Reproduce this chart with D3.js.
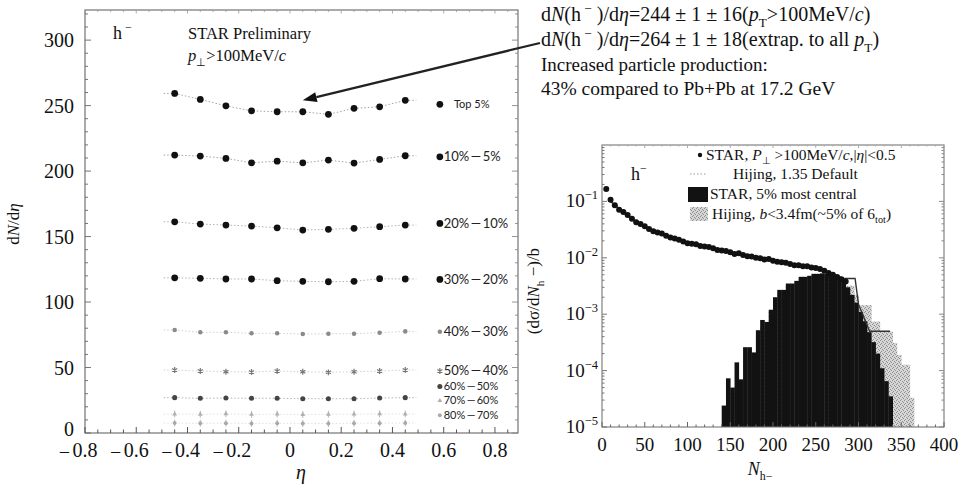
<!DOCTYPE html>
<html>
<head>
<meta charset="utf-8">
<script src="https://cdn.jsdelivr.net/npm/d3@7"></script>
<style>
  body { margin: 0; background: #fff; }
  svg { display: block; }
</style>
</head>
<body>
<svg id="chart" width="963" height="484"></svg>
<script>
// ---------------- left panel: dN/deta vs eta by centrality ----------------
const etaBins = [-0.45, -0.35, -0.25, -0.15, -0.05, 0.05, 0.15, 0.25, 0.35, 0.45];
const centralityLabels = ["Top 5%", "10%\u2009—\u20095%", "20%\u2009—\u200910%", "30%\u2009—\u200920%", "40%\u2009—\u200930%",
                          "50%\u2009—\u200940%", "60%\u2009—\u200950%", "70%\u2009—\u200960%", "80%\u2009—\u200970%"];
const dndetaTop5   = [259.3, 254.7, 249.8, 246.0, 245.3, 245.3, 243.3, 247.9, 249.1, 254.0];
const dndeta5to10  = [212.2, 211.5, 209.7, 206.3, 207.6, 206.3, 208.4, 206.1, 208.9, 211.7];
const dndeta10to20 = [161.3, 159.5, 158.8, 158.0, 156.7, 155.0, 155.5, 156.3, 157.5, 158.8];
const dndeta20to30 = [118.5, 118.1, 117.6, 117.6, 116.3, 115.8, 115.5, 115.8, 117.8, 117.6];
const dndeta30to40 = [78.6, 76.9, 76.9, 76.1, 76.1, 75.6, 75.8, 75.8, 76.6, 77.6];
const dndeta40to50 = [48.1, 47.3, 46.8, 46.6, 47.3, 46.8, 46.3, 46.8, 47.3, 48.1];
const dndeta50to60 = [27.0, 26.5, 26.7, 26.5, 26.5, 26.2, 26.2, 26.2, 26.7, 27.0];
const dndeta60to70 = [14.5, 14.3, 14.6, 14.2, 14.4, 14.1, 14.3, 14.4, 14.6, 14.5];
const dndeta70to80 = [7.6, 7.4, 7.5, 7.3, 7.4, 7.3, 7.2, 7.4, 7.5, 7.6];
// dN/deta level at which each class label sits on the right of the panel
const labelLevels = [251, 210.9, 160, 117.3, 77.3, 47.3, 35.5, 24.7, 13.5];
const etaTicks = [-0.8, -0.6, -0.4, -0.2, 0, 0.2, 0.4, 0.6, 0.8];
const dndetaTicks = [0, 50, 100, 150, 200, 250, 300];
const centralValue = 254; // value the annotation arrow points to

// ---------------- right panel: multiplicity distributions ----------------
const starMinBiasN = [5, 10, 15, 20, 25, 30, 35, 40, 45, 50, 55, 60, 65, 70, 75, 80, 85, 90, 95, 100,
  105, 110, 115, 120, 125, 130, 135, 140, 145, 150, 155, 160, 165, 170, 175, 180, 185, 190, 195, 200,
  205, 210, 215, 220, 225, 230, 235, 240, 245, 250, 255, 260, 265, 270, 275, 280, 285];
const starMinBias = [0.166, 0.107, 0.0851, 0.0708, 0.0646, 0.0575, 0.0490, 0.0427, 0.0398, 0.0363,
  0.0324, 0.0295, 0.0282, 0.0269, 0.0245, 0.0229, 0.0219, 0.0209, 0.0195, 0.0182,
  0.0178, 0.0174, 0.0162, 0.0158, 0.0155, 0.0148, 0.0138, 0.0135, 0.0132, 0.0126,
  0.0117, 0.0120, 0.0112, 0.0107, 0.0105, 0.0100, 0.00977, 0.00933, 0.00955, 0.00891,
  0.00851, 0.00832, 0.00813, 0.00776, 0.00741, 0.00741, 0.00708, 0.00708, 0.00676, 0.00661,
  0.00631, 0.00589, 0.00537, 0.00501, 0.00457, 0.00417, 0.00380];

const binWidth = 5;
const starCentralBins = [140, 145, 150, 155, 160, 165, 170, 175, 180, 185, 190, 195, 200, 205, 210,
  215, 220, 225, 230, 235, 240, 245, 250, 255, 260, 265, 270, 275, 280, 285, 290, 295, 300, 305,
  310, 315, 320, 325, 330, 335];
const starCentral = [2.4e-5, 7.3e-5, 5.0e-5, 1.4e-4, 7.0e-5, 2.6e-4, 2.6e-4, 2.1e-4, 5.2e-4, 7.9e-4,
  7.3e-4, 1.2e-3, 2.0e-3, 2.7e-3, 2.7e-3, 3.5e-3, 3.5e-3, 3.9e-3, 4.6e-3, 4.6e-3,
  4.8e-3, 5.2e-3, 5.2e-3, 5.3e-3, 5.2e-3, 5.1e-3, 5.0e-3, 4.6e-3, 4.0e-3, 3.0e-3,
  2.2e-3, 1.6e-3, 1.1e-3, 7.5e-4, 4.8e-4, 3.2e-4, 2.0e-4, 1.1e-4, 6.5e-5, 3.5e-5];

const hijingCentralBins = [145, 150, 155, 160, 165, 170, 175, 180, 185, 190, 195, 200, 205, 210, 215,
  220, 225, 230, 235, 240, 245, 250, 255, 260, 265, 270, 275, 280, 285, 290, 295, 300, 305, 310,
  315, 320, 325, 330, 335, 340, 345, 350, 355, 360];
const hijingCentral = [2.0e-5, 4.0e-5, 5.0e-5, 6.0e-5, 1.5e-4, 2.0e-4, 2.0e-4, 4.0e-4, 6.0e-4, 7.0e-4,
  1.1e-3, 1.8e-3, 2.4e-3, 2.6e-3, 3.3e-3, 3.4e-3, 3.8e-3, 4.3e-3, 4.5e-3, 4.7e-3,
  4.9e-3, 5.0e-3, 5.0e-3, 5.0e-3, 4.9e-3, 4.8e-3, 4.5e-3, 4.2e-3, 3.2e-3, 3.2e-3,
  2.2e-3, 1.45e-3, 1.45e-3, 1.45e-3, 7.4e-4, 7.4e-4, 4.9e-4, 4.9e-4, 4.9e-4, 3.1e-4,
  1.9e-4, 1.27e-4, 1.27e-4, 3.3e-5];

const hijingDefaultN = [10, 30, 60, 100, 150, 200, 250, 270, 283, 296, 300, 313, 337];
const hijingDefault = [0.1, 0.055, 0.029, 0.018, 0.0124, 0.0088, 0.0065, 0.0051, 0.0043, 0.0043, 0.0015, 5.0e-4, 5.0e-4];

const multTicks = [0, 50, 100, 150, 200, 250, 300, 350, 400];
const decadeTicks = [1e-5, 1e-4, 1e-3, 1e-2, 1e-1];
const decadeExponents = ["−5", "−4", "−3", "−2", "−1"];

// ---------------- drawing ----------------
const SERIF = "'Liberation Serif', 'Times New Roman', serif";
const SANS = "Lato, 'Noto Sans', sans-serif";
const INK = "#111";
const svg = d3.select("#chart");

// text made of plain / italic / sub / superscript runs
function rich(parent, x, y, size, parts, anchor) {
  const t = parent.append("text")
    .attr("x", x).attr("y", y)
    .attr("font-family", SERIF).attr("font-size", size)
    .attr("fill", INK).attr("text-anchor", anchor || "start");
  let cur = 0;
  parts.forEach(p => {
    const o = typeof p === "string" ? { t: p } : p;
    let shift = 0, fs = size;
    if (o.sub) { shift = size * 0.28; fs = size * 0.66; }
    if (o.sup) { shift = -size * 0.42; fs = size * 0.66; }
    const ts = t.append("tspan").text(o.t).attr("dy", shift - cur).attr("font-size", fs);
    if (o.i) ts.attr("font-style", "italic");
    cur = shift;
  });
  return t;
}

// ===== left panel =====
const xL = d3.scaleLinear().domain([-0.8, 0.89]).range([85, 518]);
const yL = d3.scaleLinear().domain([0, 323]).range([433, 10]);
const left = svg.append("g");

left.append("rect")
  .attr("x", xL.range()[0]).attr("y", yL.range()[1])
  .attr("width", xL.range()[1] - xL.range()[0])
  .attr("height", yL.range()[0] - yL.range()[1])
  .attr("fill", "none").attr("stroke", "#666").attr("stroke-width", 1.1);

// ticks on all four sides, pointing inward
const etaMinor = d3.range(-0.8, 0.88, 0.05);
etaMinor.forEach(v => {
  const major = Math.abs(Math.round(v * 10) / 10 - v) < 1e-6 && Math.round(v * 10) % 2 === 0;
  const len = major ? 6 : 3.5;
  left.append("line").attr("x1", xL(v)).attr("x2", xL(v))
    .attr("y1", yL(0)).attr("y2", yL(0) - len).attr("stroke", "#555").attr("stroke-width", 1);
  left.append("line").attr("x1", xL(v)).attr("x2", xL(v))
    .attr("y1", yL.range()[1]).attr("y2", yL.range()[1] + len * 0.6).attr("stroke", "#999").attr("stroke-width", 0.8);
});
d3.range(0, 321, 10).forEach(v => {
  const len = v % 50 === 0 ? 6 : 3;
  left.append("line").attr("x1", xL.range()[0]).attr("x2", xL.range()[0] + len)
    .attr("y1", yL(v)).attr("y2", yL(v)).attr("stroke", "#666").attr("stroke-width", 0.9);
  left.append("line").attr("x1", xL.range()[1]).attr("x2", xL.range()[1] - len)
    .attr("y1", yL(v)).attr("y2", yL(v)).attr("stroke", "#888").attr("stroke-width", 0.9);
});

// tick labels
dndetaTicks.forEach(v => {
  left.append("text").attr("x", 74).attr("y", yL(v) - (v === 0 ? 4 : 0)).attr("dy", "0.35em")
    .attr("text-anchor", "end").attr("font-family", SERIF).attr("font-size", 20)
    .attr("fill", INK).text(v);
});
etaTicks.forEach(v => {
  const s = Math.abs(v) < 1e-9 ? "0" : d3.format(".1f")(Math.abs(v));
  left.append("text").attr("x", xL(v)).attr("y", 457).attr("text-anchor", "middle")
    .attr("font-family", SERIF).attr("font-size", 20).attr("fill", INK).text(s);
  if (v < 0) {
    left.append("text").attr("x", xL(v) - 15).attr("y", 459).attr("text-anchor", "end")
      .attr("font-family", SERIF).attr("font-size", 20).attr("fill", INK).text("−");
  }
});

// axis titles
rich(left, 301, 479, 20, [{ t: "η", i: true }], "middle");
rich(left.append("g").attr("transform", "translate(19,224) rotate(-90)"), 0, 0, 17,
  ["d", { t: "N", i: true }, "/d", { t: "η", i: true }], "middle");

// panel captions
rich(left, 113, 39, 18, ["h", { t: " −", sup: true }]);
rich(left, 188, 39, 16.5, ["STAR Preliminary"]);
rich(left, 188, 61, 16.5, [{ t: "p", i: true }, { t: "⊥", sub: true }, ">100MeV/", { t: "c", i: true }]);

const leftSeries = [dndetaTop5, dndeta5to10, dndeta10to20, dndeta20to30, dndeta30to40,
                    dndeta40to50, dndeta50to60, dndeta60to70, dndeta70to80];
const markStyles = [
  { shape: d3.symbolCircle, size: 36, fill: "#111" },
  { shape: d3.symbolCircle, size: 36, fill: "#111" },
  { shape: d3.symbolCircle, size: 36, fill: "#111" },
  { shape: d3.symbolCircle, size: 36, fill: "#111" },
  { shape: d3.symbolCircle, size: 16, fill: "#8a8a8a" },
  { shape: d3.symbolAsterisk, size: 24, stroke: "#777" },
  { shape: d3.symbolCircle, size: 20, fill: "#444" },
  { shape: d3.symbolTriangle, size: 10, fill: "#b0b0b0" },
  { shape: d3.symbolCircle, size: 12, fill: "#a8a8a8" }
];
const lineColors = ["#999", "#999", "#aaa", "#aaa", "#ccc", "#ccc", "#aaa", "#ddd", "#ddd"];

function mark(parent, cx, cy, st) {
  const p = parent.append("path")
    .attr("d", d3.symbol().type(st.shape).size(st.size)())
    .attr("transform", `translate(${cx},${cy})`);
  if (st.stroke) p.attr("fill", "none").attr("stroke", st.stroke).attr("stroke-width", 1.2);
  else p.attr("fill", st.fill);
}

const lineGen = d3.line().x((d, i) => xL(etaBins[i])).y(d => yL(d));
leftSeries.forEach((vals, k) => {
  const st = markStyles[k];
  // dotted guide through the class
  left.append("path").attr("d", lineGen(vals)).attr("fill", "none")
    .attr("stroke", lineColors[k]).attr("stroke-width", 0.9).attr("stroke-dasharray", "1.5,2");
  left.append("line")
    .attr("x1", xL(etaBins[0]) - 11).attr("x2", xL(etaBins[0]))
    .attr("y1", yL(vals[0])).attr("y2", yL(vals[0]))
    .attr("stroke", lineColors[k]).attr("stroke-width", 0.9).attr("stroke-dasharray", "1.5,2");
  left.append("line")
    .attr("x1", xL(etaBins[etaBins.length - 1])).attr("x2", xL(etaBins[etaBins.length - 1]) + 11)
    .attr("y1", yL(vals[vals.length - 1])).attr("y2", yL(vals[vals.length - 1]))
    .attr("stroke", lineColors[k]).attr("stroke-width", 0.9).attr("stroke-dasharray", "1.5,2");
  // small statistical bars on the most peripheral classes
  if (k >= 7) {
    vals.forEach((v, i) => {
      left.append("line").attr("x1", xL(etaBins[i])).attr("x2", xL(etaBins[i]))
        .attr("y1", yL(v) - 3.5).attr("y2", yL(v) + 3.5)
        .attr("stroke", "#bbb").attr("stroke-width", 1);
    });
  }
  vals.forEach((v, i) => mark(left, xL(etaBins[i]), yL(v), st));

  // class label on the right
  const ly = yL(labelLevels[k]);
  mark(left, xL(0.585), ly, st);
  left.append("text")
    .attr("x", k === 0 ? xL(0.64) : xL(0.6)).attr("y", ly).attr("dy", "0.33em")
    .attr("font-family", SANS).attr("font-size", k === 0 ? 11 : (k >= 6 ? 11 : 13))
    .attr("fill", "#222").text(centralityLabels[k]);
});

// ===== annotation text and arrow =====
const note = svg.append("g");
const NOTE_SIZE = 20;
rich(note, 541, 21, NOTE_SIZE, ["d", { t: "N", i: true }, "(h", { t: " −", sup: true }, " )/d", { t: "η", i: true },
  "=244 ± 1 ± 16(", { t: "p", i: true }, { t: "T", sub: true }, ">100MeV/", { t: "c", i: true }, ")"]);
rich(note, 541, 46, NOTE_SIZE, ["d", { t: "N", i: true }, "(h", { t: " −", sup: true }, " )/d", { t: "η", i: true },
  "=264 ± 1 ± 18(extrap. to all ", { t: "p", i: true }, { t: "T", sub: true }, ")"]);
rich(note, 541, 71, NOTE_SIZE - 1, ["Increased particle production:"]);
rich(note, 541, 95, NOTE_SIZE - 0.5, ["43% compared to Pb+Pb at 17.2 GeV"]);

const tip = [xL(0.05), yL(centralValue)];
const tail = [540, 43];
const ang = Math.atan2(tail[1] - tip[1], tail[0] - tip[0]);
const headLen = 14, headW = 5;
const base = [tip[0] + headLen * Math.cos(ang), tip[1] + headLen * Math.sin(ang)];
note.append("line").attr("x1", tail[0]).attr("y1", tail[1]).attr("x2", base[0]).attr("y2", base[1])
  .attr("stroke", "#222").attr("stroke-width", 2.2);
note.append("path")
  .attr("d", `M${tip[0]},${tip[1]}L${base[0] - headW * Math.sin(ang)},${base[1] + headW * Math.cos(ang)}` +
             `L${base[0] + headW * Math.sin(ang)},${base[1] - headW * Math.cos(ang)}Z`)
  .attr("fill", "#111");

// ===== right panel =====
const xR = d3.scaleLinear().domain([0, 400]).range([602, 944]);
const yR = d3.scaleLog().domain([1e-5, 1]).range([427, 145]);
const right = svg.append("g");

const defs = svg.append("defs");
const pat = defs.append("pattern").attr("id", "stipple").attr("patternUnits", "userSpaceOnUse")
  .attr("width", 4).attr("height", 4);
pat.append("rect").attr("width", 4).attr("height", 4).attr("fill", "#d6d6d6");
[[0, 0], [2, 1], [1, 3], [3, 2]].forEach(([a, b]) =>
  pat.append("rect").attr("x", a).attr("y", b).attr("width", 1).attr("height", 1).attr("fill", "#8e8e8e"));
defs.append("clipPath").attr("id", "clipR").append("rect")
  .attr("x", xR.range()[0]).attr("y", yR.range()[1])
  .attr("width", xR.range()[1] - xR.range()[0]).attr("height", yR.range()[0] - yR.range()[1]);

const plotR = right.append("g").attr("clip-path", "url(#clipR)");

// Hijing central events (stippled) behind the STAR central events (solid)
plotR.selectAll("rect.hij").data(hijingCentralBins).join("rect")
  .attr("x", d => xR(d)).attr("width", d => xR(d + binWidth) - xR(d) + 0.3)
  .attr("y", (d, i) => yR(hijingCentral[i]))
  .attr("height", (d, i) => yR(1e-5) - yR(hijingCentral[i]))
  .attr("fill", "url(#stipple)");
plotR.selectAll("rect.star").data(starCentralBins).join("rect")
  .attr("x", d => xR(d)).attr("width", d => xR(d + binWidth) - xR(d) + 0.3)
  .attr("y", (d, i) => yR(starCentral[i]))
  .attr("height", (d, i) => yR(1e-5) - yR(starCentral[i]))
  .attr("fill", "#121212");

// Hijing default minimum bias curve
plotR.append("path")
  .attr("d", d3.line().x((d, i) => xR(hijingDefaultN[i])).y(d => yR(d))(hijingDefault))
  .attr("fill", "none").attr("stroke", "#333").attr("stroke-width", 1.4);

// STAR minimum bias points
plotR.selectAll("circle.mb").data(starMinBias).join("circle")
  .attr("cx", (d, i) => xR(starMinBiasN[i])).attr("cy", d => yR(d))
  .attr("r", 3).attr("fill", "#111");

// frame and ticks
right.append("rect")
  .attr("x", xR.range()[0]).attr("y", yR.range()[1])
  .attr("width", xR.range()[1] - xR.range()[0]).attr("height", yR.range()[0] - yR.range()[1])
  .attr("fill", "none").attr("stroke", "#777").attr("stroke-width", 1.1);
d3.range(0, 401, 10).forEach(v => {
  const len = v % 50 === 0 ? 5 : 2.5;
  right.append("line").attr("x1", xR(v)).attr("x2", xR(v))
    .attr("y1", yR.range()[0]).attr("y2", yR.range()[0] - len).attr("stroke", "#666");
  right.append("line").attr("x1", xR(v)).attr("x2", xR(v))
    .attr("y1", yR.range()[1]).attr("y2", yR.range()[1] + len * 0.6).attr("stroke", "#aaa");
});
decadeTicks.forEach(d => {
  [1, 2, 3, 4, 5, 6, 7, 8, 9].forEach(m => {
    const v = d * m;
    if (v > 1) return;
    const len = m === 1 ? 5 : 2.5;
    right.append("line").attr("x1", xR.range()[0]).attr("x2", xR.range()[0] + len)
      .attr("y1", yR(v)).attr("y2", yR(v)).attr("stroke", "#777");
    right.append("line").attr("x1", xR.range()[1]).attr("x2", xR.range()[1] - len)
      .attr("y1", yR(v)).attr("y2", yR(v)).attr("stroke", "#888");
  });
});

multTicks.forEach(v => {
  right.append("text").attr("x", xR(v)).attr("y", 451).attr("text-anchor", "middle")
    .attr("font-family", SERIF).attr("font-size", 19).attr("fill", INK).text(v);
});
decadeTicks.forEach((d, i) => {
  rich(right, 598, yR(d) + 6, 19, ["10", { t: decadeExponents[i], sup: true }], "end");
});

rich(right, 760, 475, 18, [{ t: "N", i: true }, { t: "h", sub: true }, { t: "−", sub: true }], "middle");
rich(right.append("g").attr("transform", "translate(539,291) rotate(-90)"), 0, 0, 17,
  ["(dσ/d", { t: "N", i: true }, { t: "h", sub: true }, " −)/b"], "middle");

rich(right, 631, 180, 18, ["h", { t: "−", sup: true }]);

// legend
const leg = right.append("g");
leg.append("circle").attr("cx", 700).attr("cy", 155).attr("r", 2.2).attr("fill", "#111");
rich(leg, 706, 160, 15.5, ["STAR, ", { t: "P", i: true }, { t: "⊥", sub: true }, " >100MeV/", { t: "c", i: true },
  ",|", { t: "η", i: true }, "|<0.5"]);
leg.append("line").attr("x1", 690).attr("x2", 706).attr("y1", 174).attr("y2", 174)
  .attr("stroke", "#999").attr("stroke-width", 1).attr("stroke-dasharray", "1.5,2");
rich(leg, 733, 179, 15.5, ["Hijing, 1.35 Default"]);
leg.append("rect").attr("x", 688).attr("y", 187).attr("width", 20).attr("height", 15).attr("fill", "#121212");
rich(leg, 710, 199, 15.5, ["STAR, 5% most central"]);
leg.append("rect").attr("x", 690).attr("y", 207).attr("width", 18).attr("height", 14).attr("fill", "url(#stipple)");
rich(leg, 712, 219, 15.5, ["Hijing, ", { t: "b", i: true }, "<3.4fm(~5% of 6", { t: "tot", sub: true }, ")"]);
</script>
</body>
</html>
